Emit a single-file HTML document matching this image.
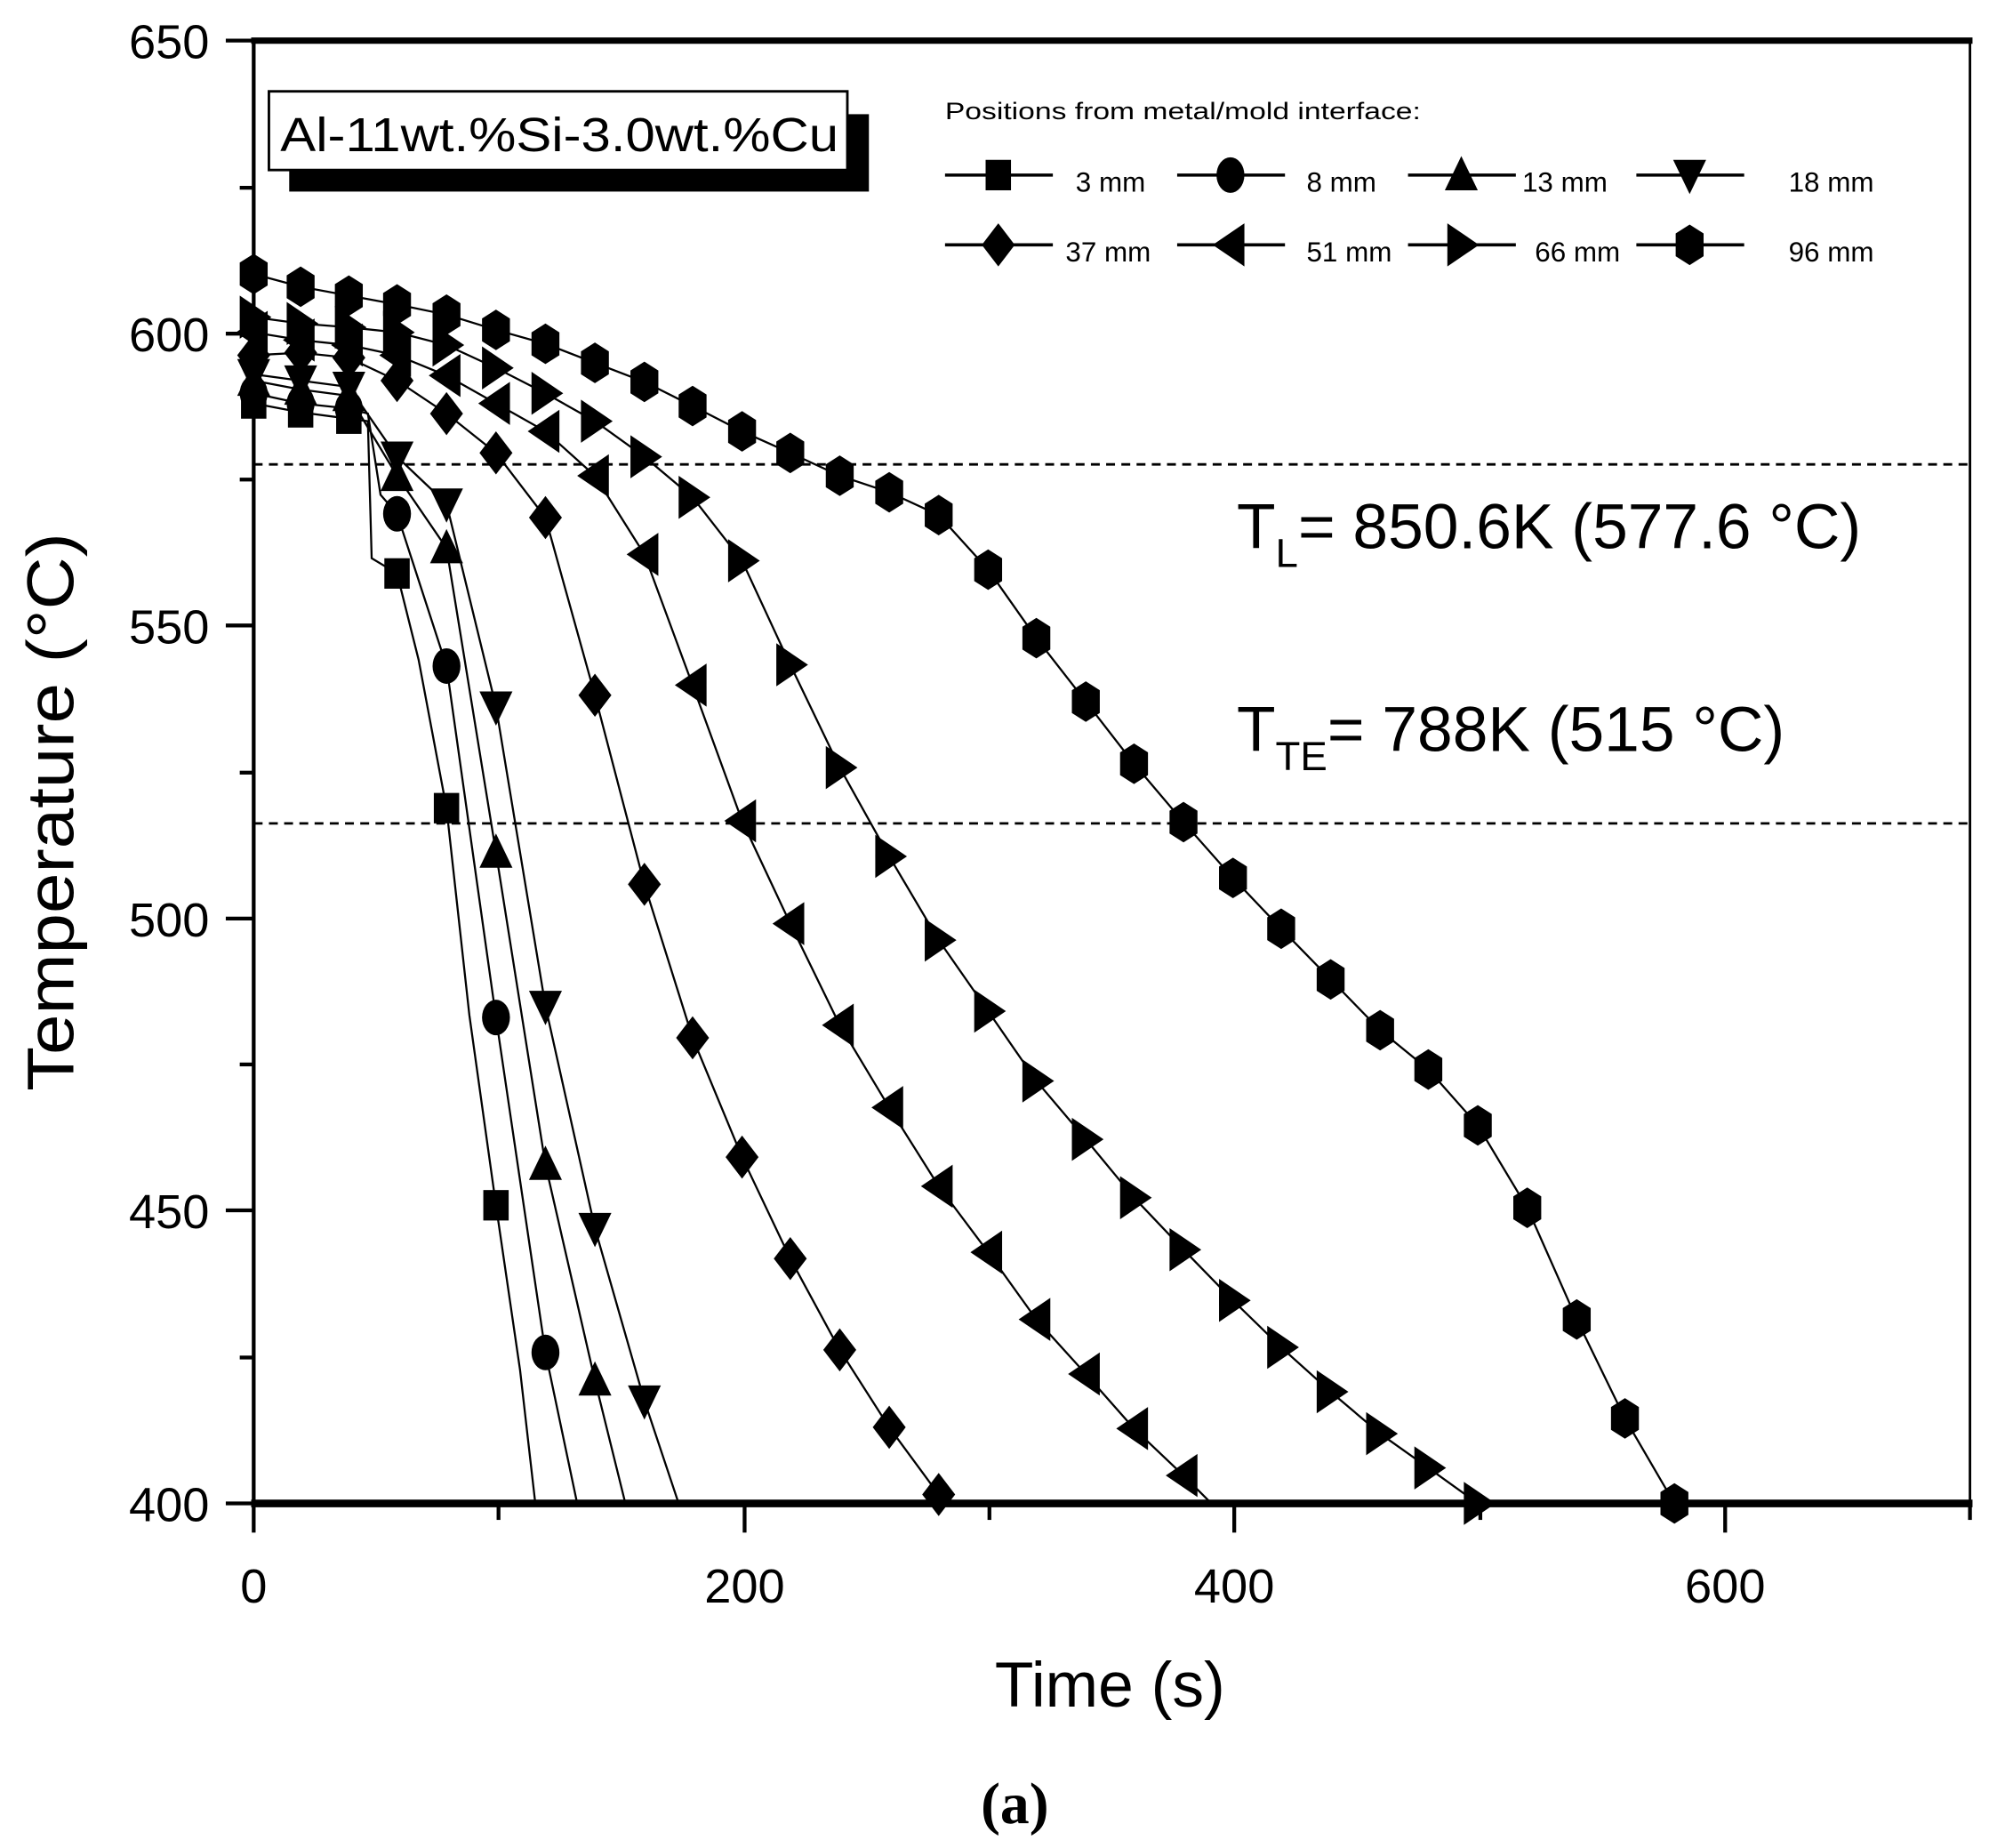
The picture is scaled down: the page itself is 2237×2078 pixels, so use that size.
<!DOCTYPE html>
<html><head><meta charset="utf-8"><style>
html,body{margin:0;padding:0;background:#fff;}
svg{display:block;}
text{font-family:"Liberation Sans",Arial,sans-serif;fill:#000;}
</style></head><body>
<svg id="s" width="2237" height="2078" viewBox="0 0 1568 1456.6" preserveAspectRatio="none" xmlns="http://www.w3.org/2000/svg">
<rect width="1568" height="1456.6" fill="#fff"/>
<g id="plot"></g>
<line x1="198" y1="32" x2="1555" y2="32" stroke="#000" stroke-width="5"/>
<line x1="198" y1="1185" x2="1555" y2="1185" stroke="#000" stroke-width="6"/>
<line x1="200" y1="30" x2="200" y2="1188" stroke="#000" stroke-width="3"/>
<line x1="1553" y1="30" x2="1553" y2="1188" stroke="#000" stroke-width="2"/>
<g stroke="#000" stroke-width="3">
<line x1="178" y1="32" x2="200" y2="32"/><line x1="178" y1="263" x2="200" y2="263"/><line x1="178" y1="493" x2="200" y2="493"/><line x1="178" y1="724" x2="200" y2="724"/><line x1="178" y1="954" x2="200" y2="954"/><line x1="178" y1="1185" x2="200" y2="1185"/>
<line x1="189" y1="148" x2="200" y2="148"/><line x1="189" y1="378" x2="200" y2="378"/><line x1="189" y1="609" x2="200" y2="609"/><line x1="189" y1="839" x2="200" y2="839"/><line x1="189" y1="1070" x2="200" y2="1070"/>
<line x1="200" y1="1185" x2="200" y2="1208"/><line x1="587" y1="1185" x2="587" y2="1208"/><line x1="973" y1="1185" x2="973" y2="1208"/><line x1="1360" y1="1185" x2="1360" y2="1208"/>
<line x1="393" y1="1185" x2="393" y2="1198"/><line x1="780" y1="1185" x2="780" y2="1198"/><line x1="1167" y1="1185" x2="1167" y2="1198"/><line x1="1553" y1="1185" x2="1553" y2="1198"/>
</g>
<g font-size="38" text-anchor="end">
<text x="165" y="46">650</text><text x="165" y="277">600</text><text x="165" y="507">550</text><text x="165" y="738">500</text><text x="165" y="968">450</text><text x="165" y="1199">400</text>
</g>
<g font-size="38" text-anchor="middle">
<text x="200" y="1263">0</text><text x="587" y="1263">200</text><text x="973" y="1263">400</text><text x="1360" y="1263">600</text>
</g>
<text x="875" y="1345" font-size="50" text-anchor="middle">Time (s)</text>
<text transform="translate(58,640) rotate(-90)" font-size="52" text-anchor="middle" textLength="440" lengthAdjust="spacingAndGlyphs">Temperature (°C)</text>
<text x="800" y="1437" font-size="46" font-weight="bold" text-anchor="middle" style="font-family:'Liberation Serif',serif">(a)</text>
<line x1="200" y1="366" x2="1553" y2="366" stroke="#000" stroke-width="2" stroke-dasharray="7,5"/>
<line x1="200" y1="649" x2="1553" y2="649" stroke="#000" stroke-width="2" stroke-dasharray="7,5"/>
<text x="975" y="432" font-size="50">T<tspan font-size="32" dy="15">L</tspan><tspan dy="-15">= 850.6K (577.6 °C)</tspan></text>
<text x="975" y="592" font-size="50">T<tspan font-size="32" dy="15">TE</tspan><tspan dy="-15">= 788K (515 °C)</tspan></text>
<rect x="228" y="90" width="457" height="61" fill="#000"/>
<rect x="212" y="72" width="456" height="62" fill="#fff" stroke="#000" stroke-width="2"/>
<text x="221" y="119" font-size="38" textLength="440" lengthAdjust="spacingAndGlyphs">Al-11wt.%Si-3.0wt.%Cu</text>
<text x="745" y="94" font-size="19" textLength="375" lengthAdjust="spacingAndGlyphs">Positions from metal/mold interface:</text>
<g id="leg"></g>
</svg>
<script>
var NS="http://www.w3.org/2000/svg";
function el(p,t,a){var e=document.createElementNS(NS,t);for(var k in a)e.setAttribute(k,a[k]);p.appendChild(e);return e;}
function mk(p,type,x,y){
 var pts;
 if(type=="sq"){el(p,"rect",{x:x-10,y:y-12,width:20,height:24});return;}
 if(type=="ci"){el(p,"ellipse",{cx:x,cy:y,rx:11,ry:14});return;}
 if(type=="up")pts=[[x,y-15],[x+13,y+12],[x-13,y+12]];
 if(type=="dn")pts=[[x,y+15],[x+13,y-12],[x-13,y-12]];
 if(type=="di")pts=[[x,y-17],[x+13,y],[x,y+17],[x-13,y]];
 if(type=="lt")pts=[[x-14,y],[x+11,y-17],[x+11,y+17]];
 if(type=="rt")pts=[[x+14,y],[x-11,y-17],[x-11,y+17]];
 if(type=="hx")pts=[[x,y-16],[x+11,y-9],[x+11,y+9],[x,y+16],[x-11,y+9],[x-11,y-9]];
 el(p,"polygon",{points:pts.map(function(q){return q.join(",")}).join(" ")});
}
var S=[
["sq",[[200,318],[237,325],[275,330],[290,332],[293,440],[313,452],[330,520],[352,637],[370,800],[391,950],[410,1080],[422,1185]],[0,1,2,5,7,9]],
["ci",[[200,310],[237,318],[275,322],[290,326],[300,390],[313,405],[352,525],[391,802],[430,1066],[455,1185]],[0,1,2,5,6,7,8]],
["up",[[200,300],[237,307],[275,312],[313,375],[352,432],[391,672],[430,918],[469,1088],[493,1185]],[0,1,2,3,4,5,6,7]],
["dn",[[200,295],[237,300],[275,305],[313,360],[352,397],[391,557],[430,793],[469,968],[508,1104],[535,1185]],[0,1,2,3,4,5,6,7,8]],
["di",[[200,280],[237,278],[275,282],[313,300],[352,326],[391,357],[430,408],[469,548],[508,697],[546,818],[585,912],[623,992],[662,1064],[701,1125],[740,1178],[745,1185]],[0,1,2,3,4,5,6,7,8,9,10,11,12,13,14]],
["lt",[[200,262],[237,268],[275,272],[313,280],[352,296],[391,318],[430,340],[469,375],[508,437],[546,540],[585,647],[623,728],[662,808],[701,873],[740,935],[779,987],[817,1040],[856,1083],[894,1126],[933,1163],[955,1185]],[0,1,2,3,4,5,6,7,8,9,10,11,12,13,14,15,16,17,18,19]],
["rt",[[200,250],[237,255],[275,258],[313,262],[352,272],[391,290],[430,310],[469,332],[508,360],[546,392],[585,442],[623,524],[662,605],[701,675],[740,741],[779,797],[817,852],[856,898],[894,944],[933,985],[972,1025],[1010,1062],[1049,1097],[1088,1130],[1126,1157],[1165,1185]],[0,1,2,3,4,5,6,7,8,9,10,11,12,13,14,15,16,17,18,19,20,21,22,23,24,25]],
["hx",[[200,216],[237,226],[275,233],[313,240],[352,248],[391,260],[430,271],[469,286],[508,301],[546,320],[585,340],[623,357],[662,375],[701,388],[740,406],[779,449],[817,503],[856,553],[894,602],[933,648],[972,692],[1010,732],[1049,772],[1088,812],[1126,843],[1165,887],[1204,952],[1243,1040],[1281,1118],[1320,1185]],[0,1,2,3,4,5,6,7,8,9,10,11,12,13,14,15,16,17,18,19,20,21,22,23,24,25,26,27,28,29]]
];
var g=document.getElementById("plot");
S.forEach(function(s){
 var d="M"+s[1].map(function(q){return q.join(",")}).join(" L");
 el(g,"path",{d:d,fill:"none",stroke:"#000","stroke-width":1.6});
});
S.forEach(function(s){
 var gg=el(g,"g",{fill:"#000"});
 s[2].forEach(function(i){var q=s[1][i]; mk(gg,s[0],q[0],q[1]);});
});
var L=document.getElementById("leg");
var rows=[[143,[["sq",745,"3 mm",848],["ci",928,"8 mm",1030],["up",1110,"13 mm",1200],["dn",1290,"18 mm",1410]]],
[198,[["di",745,"37 mm",840],["lt",928,"51 mm",1030],["rt",1110,"66 mm",1210],["hx",1290,"96 mm",1410]]]];
rows.forEach(function(r){var y=r[0];r[1].forEach(function(e){
 el(L,"line",{x1:e[1],y1:y-5,x2:e[1]+85,y2:y-5,stroke:"#000","stroke-width":2.5});
 var gg=el(L,"g",{fill:"#000"});mk(gg,e[0],e[1]+42,y-5);
 var t=el(L,"text",{x:e[3],y:y+8,"font-size":22});t.textContent=e[2];
});});
</script>
</body></html>
